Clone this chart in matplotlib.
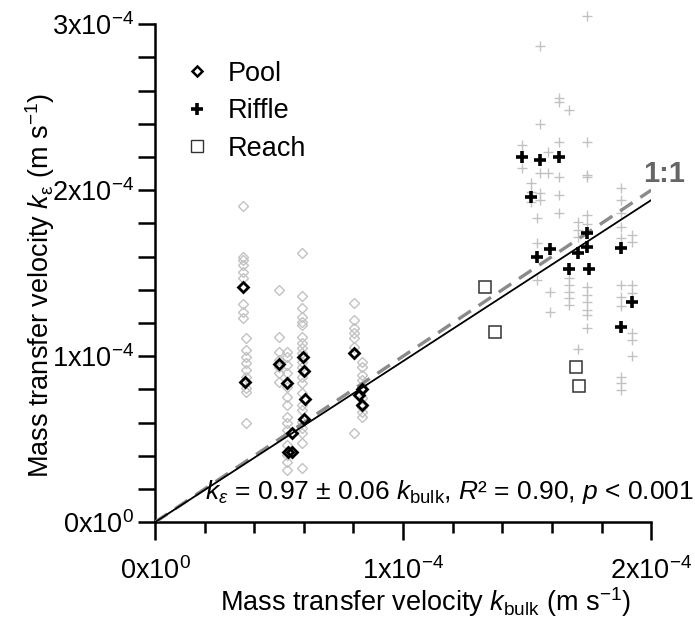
import matplotlib
matplotlib.use("Agg")
import matplotlib.pyplot as plt
from matplotlib.lines import Line2D
from matplotlib.ticker import MultipleLocator

plt.rcParams['font.family'] = ['Liberation Sans', 'DejaVu Sans']
plt.rcParams['mathtext.fontset'] = 'custom'
plt.rcParams['mathtext.rm'] = 'Liberation Sans'
plt.rcParams['mathtext.it'] = 'Liberation Sans:italic'
plt.rcParams['mathtext.bf'] = 'Liberation Sans:bold'

SCALE = 1e-4  # all values below are in units of 1e-4 m/s

# pool: individual measurements (grey), by column
pool_col_x = [0.355, 0.367, 0.500, 0.532, 0.593, 0.802, 0.835]
pool_col_y = [
    [1.904, 1.596, 1.578, 1.548, 1.506, 1.470, 1.313, 1.265, 1.229],
    [1.108, 1.036, 0.994, 0.958, 0.916, 0.873, 0.807, 0.783, 0.596],
    [1.398, 1.114, 1.024, 0.976, 0.934, 0.898, 0.843],
    [1.024, 0.994, 0.946, 0.898, 0.813, 0.753, 0.705, 0.633, 0.596,
     0.554, 0.464, 0.404, 0.361, 0.313],
    [1.620, 1.361, 1.289, 1.235, 1.205, 1.187, 1.114, 1.078, 1.048,
     1.018, 0.964, 0.934, 0.873, 0.837, 0.777, 0.705, 0.675, 0.602,
     0.566, 0.536, 0.476, 0.325],
    [1.319, 1.217, 1.169, 1.139, 1.108, 1.054, 1.018, 0.536],
    [0.964, 0.934, 0.886, 0.855, 0.813, 0.747, 0.693, 0.663, 0.633],
]
# pool: segment means (black)
pool_mean_x = [0.355, 0.363, 0.500, 0.532, 0.552, 0.536, 0.552,
               0.597, 0.601, 0.605, 0.601, 0.802, 0.835, 0.823, 0.835]
pool_mean_y = [1.416, 0.843, 0.952, 0.837, 0.536, 0.422, 0.422,
               0.994, 0.910, 0.741, 0.620, 1.018, 0.801, 0.765, 0.705]

# riffle: individual measurements (grey), by column
riffle_col_x = [1.480, 1.516, 1.540, 1.552, 1.585, 1.593, 1.629,
                1.669, 1.706, 1.742, 1.879, 1.923]
riffle_col_y = [
    [2.271, 2.133],
    [2.042, 1.988, 1.928],
    [1.831, 1.681, 1.458],
    [2.867, 2.398, 2.102, 1.982, 1.940],
    [2.229, 2.102],
    [1.386, 1.265],
    [2.554, 2.530, 2.289, 2.078, 1.970, 1.861],
    [2.482, 1.470, 1.428, 1.386, 1.349, 1.307],
    [1.807, 1.759, 1.717, 1.042],
    [3.048, 2.289, 2.090, 2.078, 1.849, 1.795, 1.416, 1.367, 1.325,
     1.277, 1.247, 1.169],
    [2.012, 1.940, 1.861, 1.777, 1.711, 1.428, 1.355, 1.301, 0.873,
     0.837, 0.795],
    [1.729, 1.687, 1.428, 1.380, 1.139, 1.096, 1.000],
]
# riffle: segment means (black)
riffle_mean_x = [1.480, 1.552, 1.629, 1.516, 1.540, 1.593, 1.706, 1.742,
                 1.742, 1.669, 1.750, 1.879, 1.923, 1.879]
riffle_mean_y = [2.199, 2.181, 2.199, 1.958, 1.596, 1.645, 1.620, 1.741,
                 1.657, 1.524, 1.524, 1.651, 1.325, 1.175]

# reach
reach_x = [1.331, 1.371, 1.698, 1.710]
reach_y = [1.416, 1.145, 0.934, 0.819]

fit_slope = 0.97
line_x = [0.0, 2.0]

fs = 19.5

fig = plt.figure(figsize=(6.95, 6.18), dpi=100)
ax = fig.add_axes([0.223, 0.155, 0.714, 0.806])

grey = '#c2c2c2'
for x, ys in zip(pool_col_x, pool_col_y):
    ax.plot([x * SCALE] * len(ys), [y * SCALE for y in ys], ls='none', marker='D',
            ms=4.8, mfc='none', mec=grey, mew=1.0, zorder=2, clip_on=False)
for x, ys in zip(riffle_col_x, riffle_col_y):
    ax.plot([x * SCALE] * len(ys), [y * SCALE for y in ys], ls='none', marker='+',
            ms=7.5, mec=grey, mew=1.0, zorder=2, clip_on=False)

ax.plot([x * SCALE for x in line_x], [x * SCALE for x in line_x], color='#8a8a8a',
        lw=2.4, ls=(0, (4.5, 2.8)), zorder=3)
ax.plot([x * SCALE for x in line_x], [fit_slope * x * SCALE for x in line_x],
        color='black', lw=1.3, zorder=4)

ax.plot([x * SCALE for x in pool_mean_x], [y * SCALE for y in pool_mean_y], ls='none',
        marker='D', ms=5.6, mfc='none', mec='black', mew=2.0, zorder=5)
ax.plot([x * SCALE for x in riffle_mean_x], [y * SCALE for y in riffle_mean_y], ls='none',
        marker='+', ms=8.5, mec='black', mew=2.6, zorder=5)
ax.plot([x * SCALE for x in reach_x], [y * SCALE for y in reach_y], ls='none',
        marker='s', ms=8.3, mfc='white', mec='#333333', mew=1.1, zorder=5)

ax.set_xlim(0, 2e-4)
ax.set_ylim(0, 3e-4)
for s in ['top', 'right']:
    ax.spines[s].set_visible(False)
for s in ['left', 'bottom']:
    ax.spines[s].set_linewidth(1.8)

ax.set_xticks([0, 1e-4, 2e-4])
ax.set_xticklabels([r'0x10$^{0}$', r'1x10$^{-4}$', r'2x10$^{-4}$'])
ax.set_yticks([0, 1e-4, 2e-4, 3e-4])
ax.set_yticklabels([r'0x10$^{0}$', r'1x10$^{-4}$', r'2x10$^{-4}$', r'3x10$^{-4}$'])
ax.xaxis.set_minor_locator(MultipleLocator(0.2e-4))
ax.yaxis.set_minor_locator(MultipleLocator(0.2e-4))
ax.tick_params(axis='both', which='both', direction='out', width=1.8, labelsize=fs)
ax.tick_params(axis='x', which='major', length=13, pad=12)
ax.tick_params(axis='x', which='minor', length=8)
ax.tick_params(axis='y', which='both', length=12, pad=3)

ax.set_xlabel(r'Mass transfer velocity $k_{\mathrm{bulk}}$ (m s$^{-1}$)', fontsize=fs)
ax.xaxis.set_label_coords(0.545, -0.126)
ax.set_ylabel(r'Mass transfer velocity $k_{\mathrm{\epsilon}}$ (m s$^{-1}$)', fontsize=fs)
ax.yaxis.set_label_coords(-0.197, 0.476)

ax.text(1.087, 0.06, r'$k_{\varepsilon}$ = 0.97 $\pm$ 0.06 $k_{\mathrm{bulk}}$, $R$² = 0.90, $p$ < 0.001',
        transform=ax.transAxes, ha='right', va='center', fontsize=19)
ax.text(2.05e-4, 2.1e-4, '1:1', fontsize=21, fontweight='bold', color='#666666',
        ha='center', va='center', clip_on=False)

handles = [
    Line2D([], [], ls='none', marker='D', ms=5, mfc='none', mec='black', mew=1.8),
    Line2D([], [], ls='none', marker='+', ms=8, mec='black', mew=2.6),
    Line2D([], [], ls='none', marker='s', ms=8, mfc='white', mec='#333333', mew=1.0),
]
ax.legend(handles, ['Pool', 'Riffle', 'Reach'], loc='upper left', bbox_to_anchor=(0.03, 0.926),
          frameon=False, fontsize=fs, handletextpad=0.15, labelspacing=0.42, borderaxespad=0,
          borderpad=0)

fig.savefig('out.png', dpi=100)
